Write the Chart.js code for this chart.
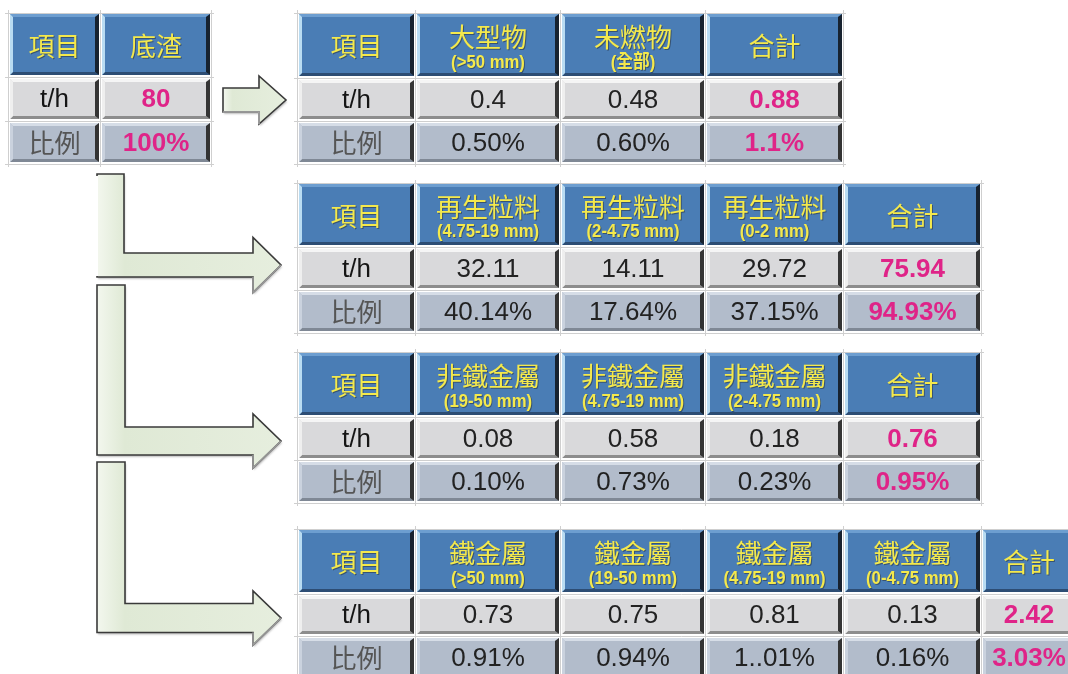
<!DOCTYPE html>
<html>
<head>
<meta charset="utf-8">
<script src="https://cdn.jsdelivr.net/npm/chart.js@4.4.1/dist/chart.umd.min.js"></script>
<style>
  html, body { margin: 0; padding: 0; background: #fff; }
  canvas { display: block; }
</style>
</head>
<body>
<canvas id="myChart" width="1068" height="674"></canvas>
<script>
// row labels shared by all tables
const rowLabels = ['t/h', '比例'];

// 底渣 (input)
const feedNames = ['底渣'];
const feedSizes = [''];
const feedTph = [80];
const feedPct = ['100%'];

// 大型物 / 未燃物
const bulkNames = ['大型物', '未燃物', '合計'];
const bulkSizes = ['(>50 mm)', '(全部)', ''];
const bulkTph = [0.4, 0.48, 0.88];
const bulkPct = ['0.50%', '0.60%', '1.1%'];

// 再生粒料
const aggNames = ['再生粒料', '再生粒料', '再生粒料', '合計'];
const aggSizes = ['(4.75-19 mm)', '(2-4.75 mm)', '(0-2 mm)', ''];
const aggTph = [32.11, 14.11, 29.72, 75.94];
const aggPct = ['40.14%', '17.64%', '37.15%', '94.93%'];

// 非鐵金屬
const nonFeNames = ['非鐵金屬', '非鐵金屬', '非鐵金屬', '合計'];
const nonFeSizes = ['(19-50 mm)', '(4.75-19 mm)', '(2-4.75 mm)', ''];
const nonFeTph = [0.08, 0.58, 0.18, 0.76];
const nonFePct = ['0.10%', '0.73%', '0.23%', '0.95%'];

// 鐵金屬
const feNames = ['鐵金屬', '鐵金屬', '鐵金屬', '鐵金屬', '合計'];
const feSizes = ['(>50 mm)', '(19-50 mm)', '(4.75-19 mm)', '(0-4.75 mm)', ''];
const feTph = [0.73, 0.75, 0.81, 0.13, 2.42];
const fePct = ['0.91%', '0.94%', '1..01%', '0.16%', '3.03%'];

// placement (in axis units) - kept apart from the data
const tables = [
  {names: feedNames, sizes: feedSizes, tph: feedTph, pct: feedPct,
   cols: [8, 100, 211], rows: [13, 77, 121, 164]},
  {names: bulkNames, sizes: bulkSizes, tph: bulkTph, pct: bulkPct,
   cols: [297, 415, 560, 705, 843], rows: [13, 78, 121, 164]},
  {names: aggNames, sizes: aggSizes, tph: aggTph, pct: aggPct,
   cols: [297, 415, 560, 705, 843, 981], rows: [183, 247, 290, 333]},
  {names: nonFeNames, sizes: nonFeSizes, tph: nonFeTph, pct: nonFePct,
   cols: [297, 415, 560, 705, 843, 981], rows: [352, 417, 460, 503]},
  {names: feNames, sizes: feSizes, tph: feTph, pct: fePct,
   cols: [297, 415, 560, 705, 843, 981, 1076], rows: [529, 594, 636, 679]}
];

const straightArrow = {x: 223, base: 259, tip: 286, y: 100, shaft: 24, head: 48};
const elbowArrows = [
  {x: 97, w: 27, top: 174, base: 253, tip: 281, y: 265, shaft: 24, head: 55},
  {x: 97, w: 28, top: 285, base: 253, tip: 281, y: 441, shaft: 28, head: 54},
  {x: 97, w: 28, top: 462, base: 253, tip: 281, y: 618, shaft: 29, head: 54}
];

const headStyle = {base: '#4a7db5', top: '#6d9ed0', left: '#b9dcf2', right: '#17222f', bottom: '#2d4d74'};
const tphStyle = {base: '#d9d9db', top: '#f5f5f5', left: '#efefef', right: '#353535', bottom: '#8d8d8d'};
const pctStyle = {base: '#b2bccb', top: '#d6dde7', left: '#cad2de', right: '#333333', bottom: '#7f8895'};

const CJK = '"Noto Sans CJK TC", "Noto Sans CJK SC", sans-serif';
const LAT = '"Liberation Sans", Arial, ' + CJK;

function poly(ctx, pts, color) {
    ctx.beginPath();
    ctx.moveTo(pts[0][0], pts[0][1]);
    for (let i = 1; i < pts.length; i++) ctx.lineTo(pts[i][0], pts[i][1]);
    ctx.closePath();
    ctx.fillStyle = color;
    ctx.fill();
}

function bevel(ctx, x0, y0, x1, y1, c) {
    const t = 3, l = 3, r = 4, b = 3;
    ctx.fillStyle = c.base;
    ctx.fillRect(x0, y0, x1 - x0, y1 - y0);
    poly(ctx, [[x0, y0], [x1, y0], [x1 - r, y0 + t], [x0 + l, y0 + t]], c.top);
    poly(ctx, [[x0, y1], [x1, y1], [x1 - r, y1 - b], [x0 + l, y1 - b]], c.bottom);
    poly(ctx, [[x0, y0], [x0 + l, y0 + t], [x0 + l, y1 - b], [x0, y1]], c.left);
    poly(ctx, [[x1, y0], [x1, y1], [x1 - r, y1 - b], [x1 - r, y0 + t]], c.right);
}

function text(ctx, s, x, y, font, color, shadow, squeeze) {
    ctx.save();
    ctx.translate(x, y);
    if (squeeze) ctx.scale(squeeze, 1);
    ctx.font = font;
    ctx.textAlign = 'center';
    ctx.textBaseline = 'middle';
    if (shadow) {
        ctx.fillStyle = 'rgba(40,50,60,0.55)';
        ctx.fillText(s, 1, 1);
    }
    ctx.fillStyle = color;
    ctx.fillText(s, 0, 0);
    ctx.restore();
}

function drawArrowShape(ctx, pts, sx, sy) {
    const p = pts.map(q => [sx.getPixelForValue(q[0]), sy.getPixelForValue(q[1])]);
    let minX = Math.min(...p.map(q => q[0])), maxX = Math.max(...p.map(q => q[0]));
    const g = ctx.createLinearGradient(minX, 0, maxX, 0);
    g.addColorStop(0, '#f3f7ee');
    g.addColorStop(0.15, '#dfe9d5');
    g.addColorStop(1, '#e6eede');
    ctx.beginPath();
    ctx.moveTo(p[0][0], p[0][1]);
    for (let i = 1; i < p.length; i++) ctx.lineTo(p[i][0], p[i][1]);
    ctx.closePath();
    ctx.save();
    ctx.shadowColor = 'rgba(0,0,0,0.25)';
    ctx.shadowOffsetX = 1;
    ctx.shadowOffsetY = 2;
    ctx.shadowBlur = 2;
    ctx.fillStyle = g;
    ctx.fill();
    ctx.restore();
    ctx.lineWidth = 1.6;
    ctx.strokeStyle = '#3a3a3a';
    ctx.stroke();
    return p;
}

const tablePlugin = {
    id: 'tables',
    afterDatasetsDraw(chart) {
        const ctx = chart.ctx;
        const sx = chart.scales.x, sy = chart.scales.y;
        const X = v => sx.getPixelForValue(v);
        const Y = v => sy.getPixelForValue(v);
        ctx.save();

        // arrows
        const a = straightArrow;
        const p1 = drawArrowShape(ctx, [
            [a.x, a.y - a.shaft / 2], [a.base, a.y - a.shaft / 2], [a.base, a.y - a.head / 2],
            [a.tip, a.y], [a.base, a.y + a.head / 2], [a.base, a.y + a.shaft / 2], [a.x, a.y + a.shaft / 2]
        ], sx, sy);
        ctx.strokeStyle = '#a8a8a8';
        ctx.lineWidth = 1.6;
        ctx.beginPath();
        ctx.moveTo(p1[4][0], p1[4][1]); ctx.lineTo(p1[5][0], p1[5][1]); ctx.lineTo(p1[6][0], p1[6][1]);
        ctx.stroke();

        elbowArrows.forEach((e, i) => {
            const p = drawArrowShape(ctx, [
                [e.x, e.top], [e.x + e.w, e.top], [e.x + e.w, e.y - e.shaft / 2],
                [e.base, e.y - e.shaft / 2], [e.base, e.y - e.head / 2], [e.tip, e.y],
                [e.base, e.y + e.head / 2], [e.base, e.y + e.shaft / 2], [e.x, e.y + e.shaft / 2]
            ], sx, sy);
            // lighter lower edges
            ctx.strokeStyle = '#9a9a9a';
            ctx.lineWidth = 1.6;
            ctx.beginPath();
            ctx.moveTo(p[5][0], p[5][1]); ctx.lineTo(p[6][0], p[6][1]); ctx.lineTo(p[7][0], p[7][1]);
            ctx.stroke();
            if (i === 0) {
                ctx.strokeStyle = '#ffffff';
                ctx.lineWidth = 2;
                ctx.beginPath();
                ctx.moveTo(p[0][0], p[0][1] + 2); ctx.lineTo(p[8][0], p[8][1] - 1);
                ctx.stroke();
            }
        });

        // tables
        tables.forEach(t => {
            const c = t.cols, r = t.rows;
            const lastRow = r.length - 1, lastCol = c.length - 1;
            // thin grid lines
            ctx.strokeStyle = '#cfcfcf';
            ctx.lineWidth = 1;
            c.forEach(xv => {
                ctx.beginPath();
                ctx.moveTo(Math.round(X(xv)) + 0.5, Y(r[0]) - 3);
                ctx.lineTo(Math.round(X(xv)) + 0.5, Y(r[lastRow]) + 3);
                ctx.stroke();
            });
            r.forEach(yv => {
                ctx.beginPath();
                ctx.moveTo(X(c[0]) - 3, Math.round(Y(yv)) + 0.5);
                ctx.lineTo(X(c[lastCol]) + 3, Math.round(Y(yv)) + 0.5);
                ctx.stroke();
            });

            const headers = ['項目'].concat(t.names);
            const sizes = [''].concat(t.sizes);
            const rowsData = [[rowLabels[0]].concat(t.tph.map(String)), [rowLabels[1]].concat(t.pct)];
            const styles = [tphStyle, pctStyle];

            for (let j = 0; j < headers.length; j++) {
                const x0 = X(c[j]) + 2, x1 = X(c[j + 1]) - 1;
                const cx = (x0 + x1) / 2;
                const total = j === headers.length - 1;
                // header
                const hy0 = Y(r[0]) + 1, hy1 = Y(r[1]) - 2;
                bevel(ctx, x0, hy0, x1, hy1, headStyle);
                const hh = hy1 - hy0;
                if (sizes[j]) {
                    text(ctx, headers[j], cx, hy0 + hh * 0.38, '26px ' + CJK, '#f4e94c', true);
                    text(ctx, sizes[j], cx, hy0 + hh * 0.79, 'bold 19px ' + LAT, '#f4e94c', true, 0.88);
                } else {
                    text(ctx, headers[j], cx, hy0 + hh * 0.52, '26px ' + CJK, '#f4e94c', true);
                }
                // body rows
                for (let k = 0; k < 2; k++) {
                    const y0 = Y(r[k + 1]) + 2, y1 = Y(r[k + 2]) - 2;
                    bevel(ctx, x0, y0, x1, y1, styles[k]);
                    const cy = (y0 + y1) / 2 + 1;
                    const s = rowsData[k][j];
                    if (j === 0) {
                        if (k === 0) text(ctx, s, cx, cy, '26px ' + LAT, '#151515');
                        else text(ctx, s, cx, cy, '26px ' + CJK, '#555555');
                    } else if (total) {
                        text(ctx, s, cx, cy, 'bold 26px ' + LAT, '#df2488');
                    } else {
                        text(ctx, s, cx, cy, '26px ' + LAT, '#222222');
                    }
                }
            }
        });
        ctx.restore();
    }
};

const ctx = document.getElementById('myChart').getContext('2d');
const myChart = new Chart(ctx, {
    type: 'scatter',
    data: { datasets: [{ data: [], pointRadius: 0 }] },
    options: {
        responsive: false,
        animation: false,
        layout: { padding: 0 },
        plugins: {
            legend: { display: false },
            tooltip: { enabled: false }
        },
        scales: {
            x: { type: 'linear', min: 0, max: 1068, display: false },
            y: { type: 'linear', min: 0, max: 674, reverse: true, display: false }
        }
    },
    plugins: [tablePlugin]
});
</script>
</body>
</html>
